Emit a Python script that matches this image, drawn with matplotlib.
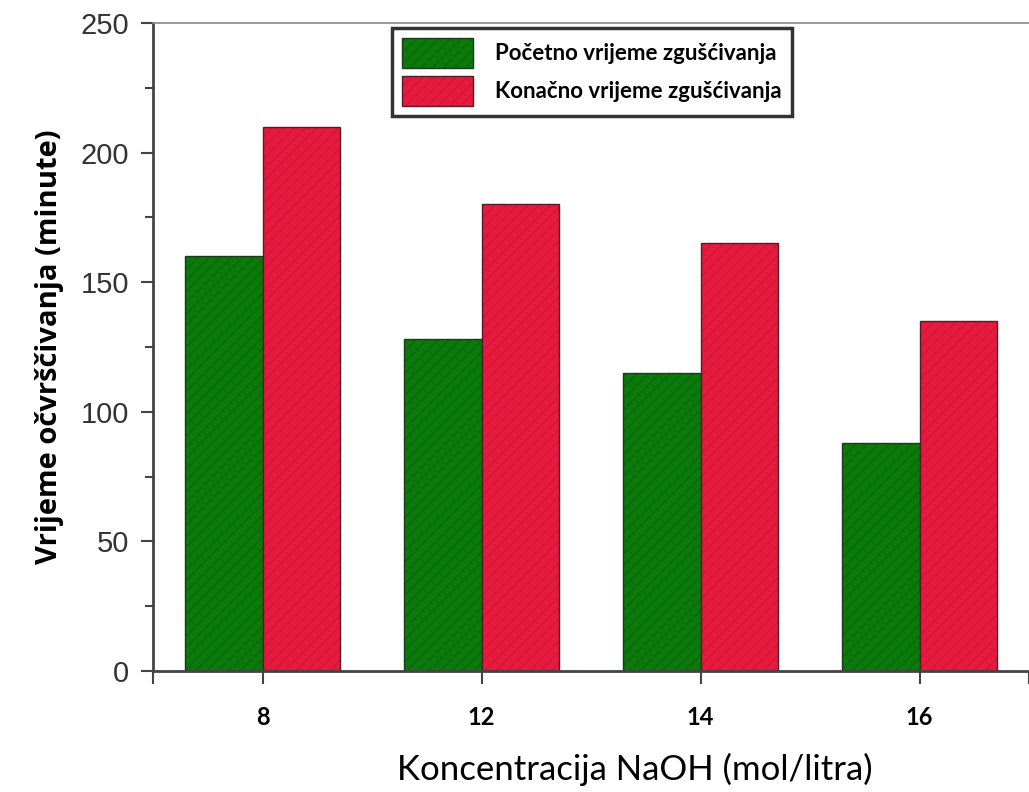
import numpy as np
import matplotlib.pyplot as plt
from matplotlib.ticker import MultipleLocator

# values
concentrations = ['8', '12', '14', '16']
initial_setting = [160, 128, 115, 88]
final_setting = [210, 180, 165, 135]
series_labels = ['Početno vrijeme zgušćivanja', 'Konačno vrijeme zgušćivanja']

plt.rcParams['hatch.linewidth'] = 1.0

fig = plt.figure(figsize=(10.29, 7.92), dpi=100)
ax = fig.add_axes([0.1487, 0.1528, 0.8513, 0.8182])

x = np.arange(len(concentrations))
w = 0.355
b1 = ax.bar(x - w / 2, initial_setting, w, color='#0a7a0a', edgecolor='#1a3a1a',
            linewidth=1.0, hatch='///', label=series_labels[0])
b2 = ax.bar(x + w / 2, final_setting, w, color='#e8193f', edgecolor='#5a1a25',
            linewidth=1.0, hatch='///', label=series_labels[1])
for p in b1:
    p._hatch_color = (0.05, 0.40, 0.05, 1.0)
for p in b2:
    p._hatch_color = (0.80, 0.10, 0.22, 1.0)

ax.set_xlim(-0.5, 3.49)
ax.set_ylim(0, 250)
ax.set_xticks([-0.5, 0, 1, 2, 3, 3.5])
ax.set_xticklabels([''] + concentrations + [''], fontfamily='Lato',
                   fontweight='bold', fontsize=17)
ax.yaxis.set_major_locator(MultipleLocator(50))
ax.yaxis.set_minor_locator(MultipleLocator(25))
ax.tick_params(axis='y', which='major', labelsize=21, length=9, width=1.5,
               color='#444444', labelcolor='#333333', pad=8)
ax.tick_params(axis='y', which='minor', length=6, width=1.5, color='#444444')
ax.tick_params(axis='x', length=9, width=1.5, color='#444444', pad=16)
for lab in ax.get_yticklabels():
    lab.set_fontfamily('Liberation Sans')

ax.spines['right'].set_visible(False)
ax.spines['left'].set_linewidth(2)
ax.spines['left'].set_color('#444444')
ax.spines['bottom'].set_linewidth(2)
ax.spines['bottom'].set_color('#444444')
ax.spines['top'].set_linewidth(1.2)
ax.spines['top'].set_color('#888888')

ax.set_ylabel('Vrijeme očvrščivanja (minute)', fontfamily='Open Sans',
              fontweight='bold', fontsize=21, labelpad=12)
ax.set_xlabel('Koncentracija NaOH (mol/litra)', fontfamily='Lato',
              fontsize=25)
ax.xaxis.set_label_coords(0.55, -0.127)

leg = ax.legend(loc='upper left', bbox_to_anchor=(0.273, 0.992),
                prop={'family': 'Lato', 'weight': 'bold', 'size': 16},
                frameon=True, fancybox=False, edgecolor='black',
                handlelength=3.2, handleheight=1.7, borderpad=0.45,
                labelspacing=0.35, handletextpad=1.0, borderaxespad=0)
leg.get_frame().set_linewidth(2.5)

plt.savefig('out.png', dpi=100)
